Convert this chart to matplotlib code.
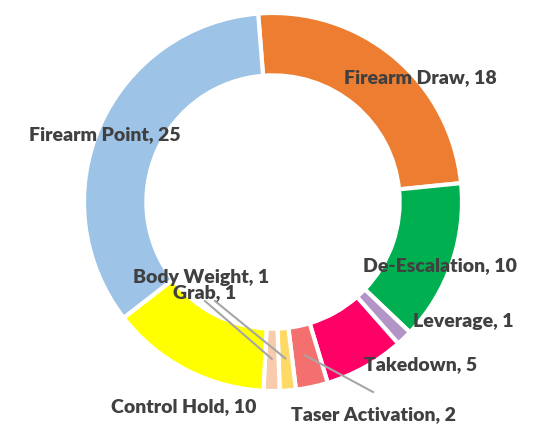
import numpy as np
import matplotlib.pyplot as plt

labels = ["Firearm Draw", "De-Escalation", "Leverage", "Takedown", "Taser Activation",
          "Grab", "Body Weight", "Control Hold", "Firearm Point"]
values = [18, 10, 1, 5, 2, 1, 1, 10, 25]
colors = ["#ED7D31", "#00B050", "#B294C7", "#FF0066", "#F4706E",
          "#FFD966", "#F8CBAD", "#FFFF00", "#9DC3E6"]

# label positions in pixels (x, y from top) and whether they get a leader line
label_pos = {
    "Firearm Draw": (420, 78),
    "De-Escalation": (440, 266),
    "Leverage": (463, 322),
    "Takedown": (421, 365),
    "Taser Activation": (373, 415),
    "Grab": (205, 293),
    "Body Weight": (201, 277),
    "Control Hold": (184, 407),
    "Firearm Point": (105, 135),
}
leaders = {
    "Taser Activation": (373, 393),
    "Grab": (215, 302),
    "Body Weight": (205, 302),
}

W, H = 540, 427
fig = plt.figure(figsize=(W / 100, H / 100), dpi=100)
ax = fig.add_axes([0, 0, 1, 1])
ax.set_aspect("equal")

cx, cy, r = 273, H - 203, 189
wedges, _ = ax.pie(values, colors=colors, startangle=94.5, counterclock=False,
                   center=(cx, cy), radius=r, frame=True,
                   wedgeprops=dict(width=r * 0.33, edgecolor="white", linewidth=3))
ax.set_xlim(0, W)
ax.set_ylim(0, H)
ax.axis("off")

for w, lab, v in zip(wedges, labels, values):
    px, py = label_pos[lab]
    ax.text(px, H - py, f"{lab}, {v}", ha="center", va="center", fontsize=14,
            fontweight="heavy", color="#404040", family="Lato")
    if lab in leaders:
        lx, ly = leaders[lab]
        mid = np.deg2rad((w.theta1 + w.theta2) / 2)
        rr = r * 0.83
        ax.plot([lx, cx + rr * np.cos(mid)], [H - ly, cy + rr * np.sin(mid)],
                color="#A6A6A6", linewidth=1.5)

fig.savefig("out.png", dpi=100)
